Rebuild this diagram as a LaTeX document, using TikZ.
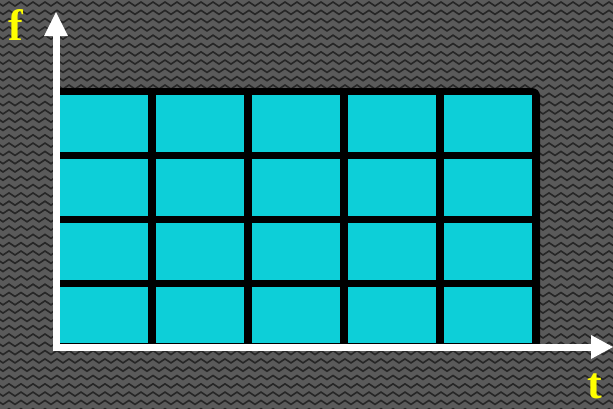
\documentclass[tikz,border=0pt]{standalone}
\usepackage{fontspec}
\setmainfont{Liberation Serif}
\usetikzlibrary{decorations.pathmorphing}
\definecolor{bggray}{HTML}{5A5A5A}
\definecolor{zig}{HTML}{262626}
\definecolor{cellcyan}{HTML}{0DCFD8}
\definecolor{lblyellow}{HTML}{FFFF00}
\tikzset{
  cell/.style={fill=cellcyan, draw=none},
  axisline/.style={white, line width=7pt},
  axishead/.style={fill=white, draw=none},
  lbl/.style={text=lblyellow, font=\bfseries\fontsize{44}{44}\selectfont, inner sep=0pt},
  zigline/.style={zig, line width=1.6pt, decorate, decoration={zigzag, segment length=12pt, amplitude=2pt}}
}
\begin{document}
\begin{tikzpicture}[x=1pt, y=-1pt]
\useasboundingbox (0,0) rectangle (613,408);
\fill[bggray] (-3,-3) rectangle (616,411);
\foreach \r in {0,...,50} {
  \draw[zigline] (-6,{4+8.3*\r}) -- (620,{4+8.3*\r});
}
% black grid body
\fill[black, rounded corners=8pt] (53,88) -- (540,88) -- (540,350) -- (53,350) -- cycle;
\foreach \i in {0,...,4} {
  \foreach \j in {0,...,3} {
    \fill[cell] ({60+96*\i},{95+64*\j}) rectangle ++(88,{ifthenelse(\j==3,56,57)});
  }
}
% axes
\coordinate (o) at (56,347);
\coordinate (ftip) at (56,12);
\coordinate (ttip) at (613,347);
\draw[axisline] (56,350.5) -- (56,34);
\draw[axisline] (52.5,347) -- (592,347);
\fill[axishead] (ftip) -- (44,36) -- (68,36) -- cycle;
\fill[axishead] (ttip) -- (591,335) -- (591,359) -- cycle;
\node[lbl, anchor=base west] (f) at (8,40) {f};
\node[lbl, anchor=base west] (t) at (587,398) {t};
\end{tikzpicture}
\end{document}
